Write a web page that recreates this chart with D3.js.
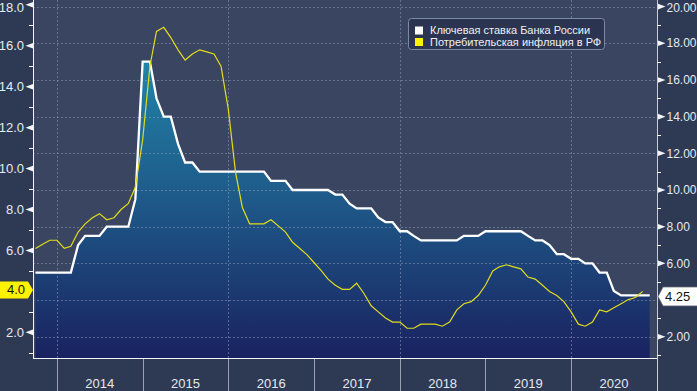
<!DOCTYPE html>
<html>
<head>
<meta charset="utf-8">
<script src="https://cdn.jsdelivr.net/npm/d3@7"></script>
<style>
  html, body { margin: 0; padding: 0; background: #2e3a53; }
  svg { display: block; }
  text { font-family: "Liberation Sans", Arial, sans-serif; }
</style>
</head>
<body>
<svg id="chart" width="697" height="391"></svg>
<script>
// ---------------- DATA ----------------
const firstMonth = "2013-09"; // first monthly observation (month-end values)
const keyRateLabel = "Ключевая ставка Банка России";
const inflationLabel = "Потребительская инфляция в РФ";

// Key rate, month-end, Sep 2013 .. Nov 2020 (right axis)
const keyRate = [
  5.5, 5.5, 5.5, 5.5,
  5.5, 5.5, 7.0, 7.5, 7.5, 7.5, 8.0, 8.0, 8.0, 8.0, 9.5, 17.0,
  17.0, 15.0, 14.0, 14.0, 12.5, 11.5, 11.5, 11.0, 11.0, 11.0, 11.0, 11.0,
  11.0, 11.0, 11.0, 11.0, 11.0, 10.5, 10.5, 10.5, 10.0, 10.0, 10.0, 10.0,
  10.0, 10.0, 9.75, 9.75, 9.25, 9.0, 9.0, 9.0, 8.5, 8.25, 8.25, 7.75,
  7.75, 7.5, 7.25, 7.25, 7.25, 7.25, 7.25, 7.25, 7.5, 7.5, 7.5, 7.75,
  7.75, 7.75, 7.75, 7.75, 7.75, 7.5, 7.25, 7.25, 7.0, 6.5, 6.5, 6.25,
  6.25, 6.0, 6.0, 5.5, 5.5, 4.5, 4.25, 4.25, 4.25, 4.25, 4.25
];

// CPI inflation y/y, Sep 2013 .. Oct 2020 (left axis)
const inflation = [
  6.1, 6.3, 6.5, 6.5,
  6.1, 6.2, 6.9, 7.3, 7.6, 7.8, 7.5, 7.6, 8.0, 8.3, 9.1, 11.4,
  15.0, 16.7, 16.9, 16.4, 15.8, 15.3, 15.6, 15.8, 15.7, 15.6, 15.0, 12.9,
  9.8, 8.1, 7.3, 7.3, 7.3, 7.5, 7.2, 6.9, 6.4, 6.1, 5.8, 5.4,
  5.0, 4.6, 4.3, 4.1, 4.1, 4.4, 3.9, 3.3, 3.0, 2.7, 2.5, 2.5,
  2.2, 2.2, 2.4, 2.4, 2.4, 2.3, 2.5, 3.1, 3.4, 3.5, 3.8, 4.3,
  5.0, 5.2, 5.3, 5.2, 5.1, 4.7, 4.6, 4.3, 4.0, 3.8, 3.5, 3.0,
  2.4, 2.3, 2.5, 3.1, 3.0, 3.2, 3.4, 3.6, 3.7, 4.0
];

const years = ["2014", "2015", "2016", "2017", "2018", "2019", "2020"];
const leftTicks = [2, 4, 6, 8, 10, 12, 14, 16, 18];
const leftTickLabels = ["2.0", "4.0", "6.0", "8.0", "10.0", "12.0", "14.0", "16.0", "18.0"];
const rightTicks = [2, 4, 6, 8, 10, 12, 14, 16, 18, 20];
const rightTickLabels = ["2.00", "4.00", "6.00", "8.00", "10.00", "12.00", "14.00", "16.00", "18.00", "20.00"];
const gridYears = ["2014", "2016", "2018", "2020"];
const leftTag = "4.0";
const rightTag = "4.25";

// ---------------- LAYOUT ----------------
const W = 697, H = 391;
const plot = { left: 33, right: 657, top: 0, bottom: 358 };

const parseM = d3.timeParse("%Y-%m");
const start = parseM(firstMonth);
// month-end value plotted at the start of the following month
const dateAt = i => d3.timeMonth.offset(start, i + 1);

const x = d3.scaleTime()
  .domain([new Date(2014, 0, 1), new Date(2021, 0, 1)])
  .range([57, 657]);
const yL = d3.scaleLinear().domain([0, 18]).range([373.3, 4.8]);
const yR = d3.scaleLinear().domain([0, 20]).range([373.4, 6.6]);

const keyData = keyRate.map((v, i) => ({ d: dateAt(i), v }));
const infData = inflation.map((v, i) => ({ d: dateAt(i), v }));

const svg = d3.select("#chart");

// defs
const defs = svg.append("defs");
const grad = defs.append("linearGradient")
  .attr("id", "areaGrad")
  .attr("gradientUnits", "userSpaceOnUse")
  .attr("x1", 0).attr("x2", 0)
  .attr("y1", yR(17)).attr("y2", plot.bottom);
grad.append("stop").attr("offset", "0").attr("stop-color", "#2183a8");
grad.append("stop").attr("offset", "0.45").attr("stop-color", "#1e5b8a");
grad.append("stop").attr("offset", "1").attr("stop-color", "#1a2261");

// backgrounds
svg.append("rect").attr("x", 0).attr("y", 0).attr("width", W).attr("height", H).attr("fill", "#2e3a53");
svg.append("rect")
  .attr("x", plot.left).attr("y", plot.top)
  .attr("width", plot.right - plot.left).attr("height", plot.bottom - plot.top)
  .attr("fill", "#3a4561");

// area under key rate
svg.append("path")
  .datum(keyData)
  .attr("fill", "url(#areaGrad)")
  .attr("d", d3.area().x(d => x(d.d)).y0(plot.bottom).y1(d => yR(d.v)));

// grid
const gridG = svg.append("g").attr("stroke", "#8e9ab4").attr("stroke-opacity", 0.55)
  .attr("stroke-dasharray", "2,2").attr("stroke-width", 1);
gridG.selectAll("line.h").data(rightTicks).join("line")
  .attr("x1", plot.left).attr("x2", plot.right)
  .attr("y1", d => Math.round(yR(d)) + 0.5).attr("y2", d => Math.round(yR(d)) + 0.5);
gridG.selectAll("line.v").data(gridYears).join("line")
  .attr("x1", d => Math.round(x(new Date(+d, 0, 1))) + 0.5)
  .attr("x2", d => Math.round(x(new Date(+d, 0, 1))) + 0.5)
  .attr("y1", plot.top).attr("y2", plot.bottom);

// key rate line
svg.append("path")
  .datum(keyData)
  .attr("fill", "none").attr("stroke", "#ffffff").attr("stroke-width", 2.3)
  .attr("stroke-linejoin", "miter")
  .attr("d", d3.line().x(d => x(d.d)).y(d => yR(d.v)));

// inflation line
svg.append("path")
  .datum(infData)
  .attr("fill", "none").attr("stroke", "#e2dc1c").attr("stroke-width", 1.2)
  .attr("d", d3.line().x(d => x(d.d)).y(d => yL(d.v)));

// axes frame lines
const axisColor = "#f2f4f8";
svg.append("line").attr("x1", plot.left + 0.5).attr("x2", plot.left + 0.5)
  .attr("y1", 0).attr("y2", plot.bottom + 0.5).attr("stroke", axisColor);
svg.append("line").attr("x1", plot.left).attr("x2", plot.right)
  .attr("y1", plot.bottom + 0.5).attr("y2", plot.bottom + 0.5).attr("stroke", axisColor);
svg.append("line").attr("x1", plot.right + 0.5).attr("x2", plot.right + 0.5)
  .attr("y1", 0).attr("y2", H).attr("stroke", "#c7cdd8");

// left axis ticks
const labelColor = "#e6e9ef";
const leftG = svg.append("g");
d3.range(1, 19, 2).forEach(v => {
  leftG.append("line").attr("x1", plot.left - 4).attr("x2", plot.left)
    .attr("y1", Math.round(yL(v)) + 0.5).attr("y2", Math.round(yL(v)) + 0.5).attr("stroke", axisColor);
});
leftTicks.forEach((v, i) => {
  const yy = yL(v);
  if (leftTickLabels[i] === leftTag) return;
  leftG.append("path")
    .attr("d", `M${plot.left},${yy - 2.8}L${plot.left - 7.5},${yy}L${plot.left},${yy + 2.8}Z`)
    .attr("fill", axisColor);
  leftG.append("text").attr("x", plot.left - 9).attr("y", Math.max(yy, 7.5))
    .attr("dy", "0.35em").attr("text-anchor", "end")
    .attr("font-size", 13).attr("fill", labelColor).text(leftTickLabels[i]);
});

// right axis ticks
const rightG = svg.append("g");
d3.range(1, 21, 2).forEach(v => {
  rightG.append("line").attr("x1", plot.right).attr("x2", plot.right + 4)
    .attr("y1", Math.round(yR(v)) + 0.5).attr("y2", Math.round(yR(v)) + 0.5).attr("stroke", axisColor);
});
rightTicks.forEach((v, i) => {
  const yy = yR(v);
  if (v === 4) return;
  rightG.append("path")
    .attr("d", `M${plot.right + 1},${yy - 2.8}L${plot.right + 8.5},${yy}L${plot.right + 1},${yy + 2.8}Z`)
    .attr("fill", axisColor);
  rightG.append("text").attr("x", plot.right + 9.5).attr("y", Math.max(yy, 7.5))
    .attr("dy", "0.35em").attr("font-size", 12).attr("fill", labelColor).text(rightTickLabels[i]);
});

// x axis: year separators + labels
const xG = svg.append("g");
const bounds = years.map(y => new Date(+y, 0, 1)).concat([new Date(+years[years.length - 1] + 1, 0, 1)]);
bounds.slice(0, -1).forEach(b => {
  const xx = Math.round(x(b)) + 0.5;
  xG.append("line").attr("x1", xx).attr("x2", xx).attr("y1", plot.bottom + 1).attr("y2", H)
    .attr("stroke", "#9aa3b6");
});
years.forEach((y, i) => {
  const cx = (x(bounds[i]) + x(bounds[i + 1])) / 2;
  xG.append("text").attr("x", cx).attr("y", 388).attr("text-anchor", "middle")
    .attr("font-size", 13).attr("fill", labelColor).text(y);
});

// value tags
const lastInf = infData[infData.length - 1];
const ly = yL(lastInf.v) - 1.5;
svg.append("path")
  .attr("d", `M0,${ly - 8.5}L${plot.left - 5},${ly - 8.5}L${plot.left},${ly}L${plot.left - 5},${ly + 8.5}L0,${ly + 8.5}Z`)
  .attr("fill", "#fff200");
svg.append("text").attr("x", 25).attr("y", ly).attr("dy", "0.35em").attr("text-anchor", "end")
  .attr("font-size", 13).attr("fill", "#111").text(leftTag);

const lastKey = keyData[keyData.length - 1];
const ry = yR(lastKey.v) + 1;
svg.append("path")
  .attr("d", `M${plot.right + 1},${ry}L${plot.right + 6},${ry - 9.5}L${W + 2},${ry - 9.5}L${W + 2},${ry + 9.5}L${plot.right + 6},${ry + 9.5}Z`)
  .attr("fill", "#ffffff").attr("stroke", "#5a6275").attr("stroke-width", 0.8);
svg.append("text").attr("x", plot.right + 8).attr("y", ry).attr("dy", "0.35em")
  .attr("font-size", 13).attr("fill", "#111").text(rightTag);

// legend
const lg = svg.append("g");
lg.append("rect").attr("x", 408.5).attr("y", 18.5).attr("width", 196).attr("height", 31).attr("rx", 3)
  .attr("fill", "#2b3551").attr("stroke", "#7d89a2");
[[keyRateLabel, "#ffffff"], [inflationLabel, "#fff200"]].forEach(([t, c], i) => {
  const cy = 30.5 + i * 11.5;
  lg.append("rect").attr("x", 415).attr("y", cy - 4).attr("width", 8).attr("height", 8).attr("fill", c);
  lg.append("text").attr("x", 430).attr("y", cy).attr("dy", "0.35em")
    .attr("font-size", 11).attr("fill", "#eef0f4").text(t);
});
</script>
</body>
</html>
